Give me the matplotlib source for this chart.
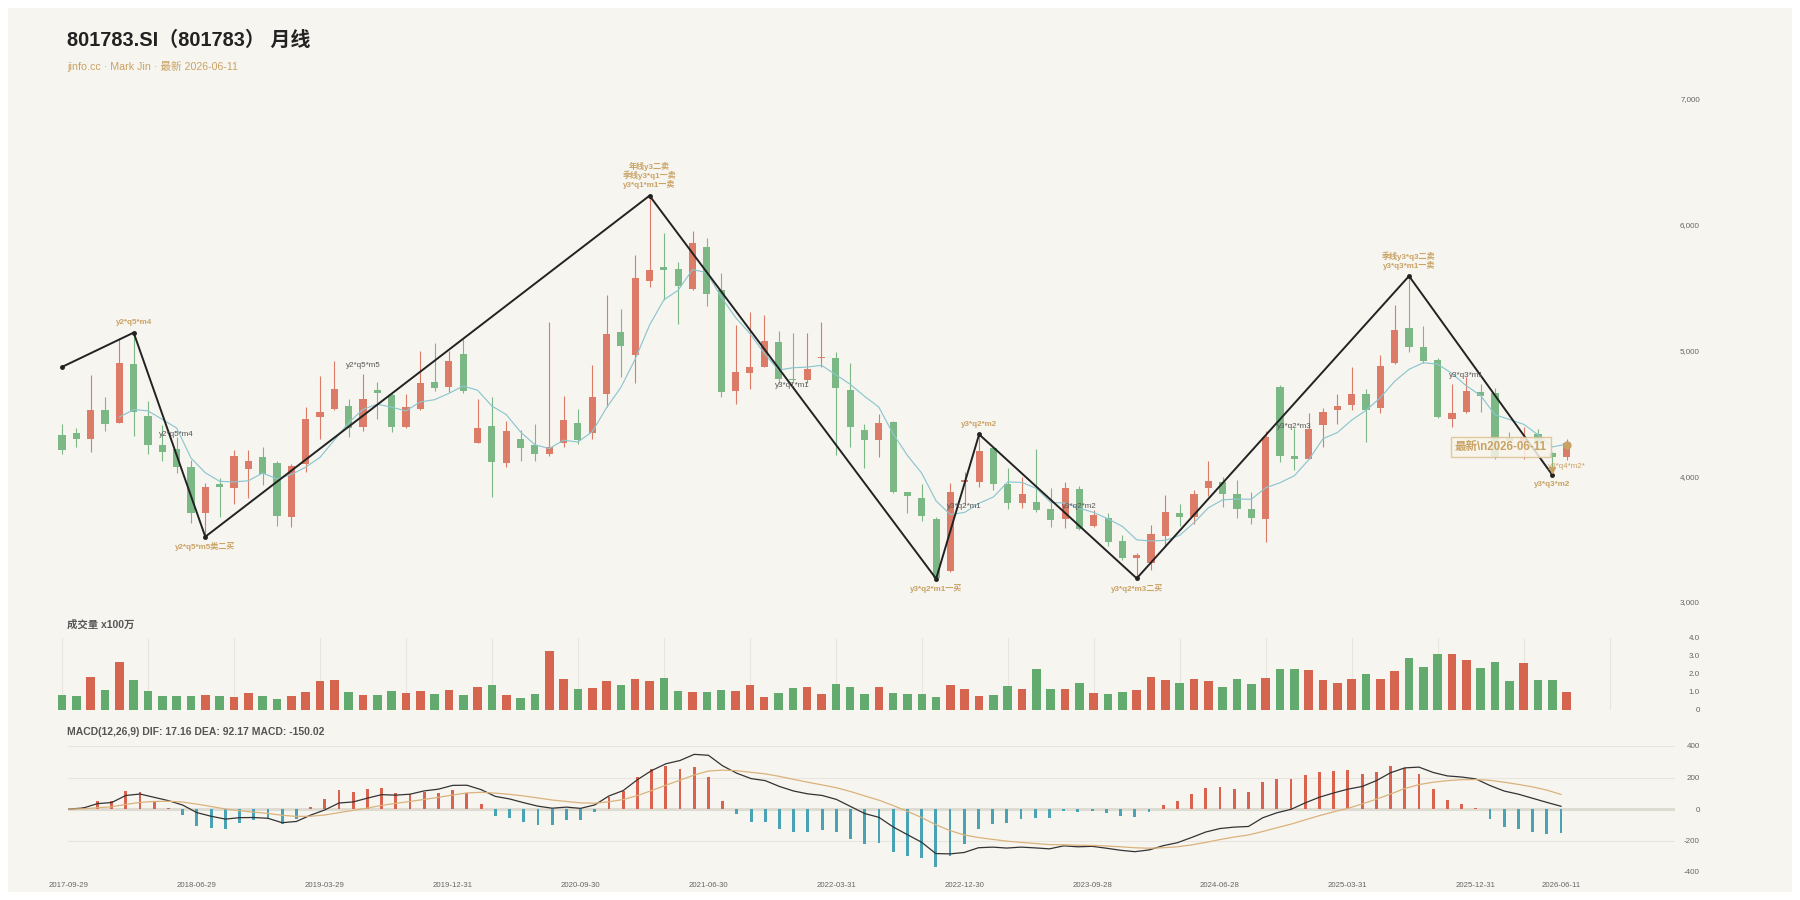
import matplotlib
matplotlib.use('Agg')
import matplotlib.pyplot as plt
import numpy as np
import pandas as pd
from matplotlib.patches import Rectangle

plt.rcParams['font.family'] = ['Liberation Sans', 'Noto Sans CJK SC', 'DejaVu Sans']

# ---- data (monthly, 2017-09 .. 2026-06) ----
tick_idx = [0, 9, 18, 27, 36, 45, 54, 63, 72, 81, 90, 99, 105]
tick_dates = ['2017-09-29', '2018-06-29', '2019-03-29', '2019-12-31', '2020-09-30',
              '2021-06-30', '2022-03-31', '2022-12-30', '2023-09-28', '2024-06-28',
              '2025-03-31', '2025-12-31', '2026-06-11']

opens = [4328, 4346, 4299, 4527, 4426, 4893, 4482, 4248, 4214, 4076,
         3705, 3941, 3904, 4058, 4153, 4108, 3678, 4097, 4474, 4537,
         4559, 4394, 4686, 4646, 4394, 4535, 4752, 4712, 4970, 4267,
         4400, 4108, 4294, 4249, 4177, 4261, 4421, 4346, 4654, 5144,
         4964, 5555, 5664, 5648, 5489, 5825, 5481, 4677, 4818, 4871,
         5065, 4776, 4765, 4937, 4943, 4686, 4368, 4288, 4434, 3872,
         3829, 3658, 3247, 3952, 3958, 4227, 3938, 3790, 3792, 3737,
         3661, 3899, 3607, 3670, 3485, 3352, 3307, 3525, 3706, 3679,
         3909, 3958, 3859, 3740, 3661, 4712, 4161, 4140, 4405, 4527,
         4569, 4654, 4545, 4898, 5176, 5030, 4925, 4458, 4514, 4670,
         4659, 4302, 4262, 4333, 4182, 4156]
highs = [4415, 4381, 4805, 4628, 5102, 5142, 4598, 4407, 4315, 4129,
         3949, 3983, 4209, 4209, 4230, 4119, 4097, 4548, 4797, 4916,
         4614, 4813, 4752, 4664, 4651, 4998, 5062, 4999, 5089, 4612,
         4628, 4439, 4368, 4415, 5224, 4638, 4532, 4885, 5441, 5332,
         5759, 6231, 5932, 5701, 5953, 5892, 5619, 5203, 5309, 5282,
         5155, 5142, 5142, 5224, 4986, 4898, 4415, 4492, 4442, 3872,
         3938, 3679, 3944, 4036, 4333, 4227, 4068, 3991, 4214, 3904,
         3952, 3925, 3732, 3706, 3533, 3390, 3612, 3851, 3777, 3891,
         4121, 3997, 3971, 3872, 4360, 4725, 4381, 4500, 4540, 4654,
         4866, 4691, 4964, 5362, 5592, 5197, 4938, 4731, 4791, 4734,
         4699, 4355, 4395, 4376, 4190, 4294]
lows = [4174, 4235, 4195, 4362, 4420, 4320, 4174, 4124, 4028, 3626,
        3519, 3673, 3779, 3824, 3930, 3604, 3599, 4036, 4294, 4527,
        4315, 4362, 4453, 4354, 4381, 4527, 4680, 4672, 4659, 4261,
        3838, 4076, 4124, 4124, 4161, 4235, 4254, 4294, 4553, 4792,
        4739, 5507, 5402, 5208, 5481, 5356, 4633, 4572, 4696, 4866,
        4739, 4739, 4739, 4871, 4169, 4235, 4063, 4155, 3869, 3710,
        3647, 3185, 3240, 3771, 3917, 3891, 3737, 3745, 3719, 3599,
        3586, 3573, 3599, 3448, 3334, 3188, 3254, 3440, 3605, 3620,
        3843, 3758, 3666, 3618, 3480, 4111, 4050, 4135, 4235, 4416,
        4527, 4275, 4500, 4890, 4985, 4903, 4461, 4395, 4506, 4514,
        4135, 4262, 4135, 4209, 4010, 4130]
closes = [4209, 4299, 4527, 4418, 4898, 4508, 4248, 4190, 4071, 3710,
          3917, 3912, 4163, 4119, 4015, 3686, 4084, 4455, 4510, 4696,
          4386, 4611, 4664, 4389, 4548, 4744, 4699, 4916, 4680, 4381,
          4116, 4360, 4222, 4174, 4230, 4447, 4288, 4630, 5129, 5036,
          5574, 5638, 5638, 5512, 5857, 5449, 4672, 4826, 4871, 5078,
          4773, 4765, 4853, 4942, 4704, 4394, 4288, 4421, 3877, 3845,
          3686, 3188, 3877, 3971, 4203, 3938, 3785, 3856, 3732, 3650,
          3909, 3581, 3689, 3474, 3352, 3374, 3538, 3713, 3674, 3859,
          3962, 3856, 3740, 3670, 4315, 4161, 4135, 4373, 4511, 4556,
          4657, 4524, 4877, 5163, 5030, 4919, 4469, 4503, 4675, 4641,
          4156, 4283, 4310, 4262, 4156, 4262]
volumes = [0.85, 0.78, 1.83, 1.09, 2.67, 1.65, 1.04, 0.78, 0.76, 0.76,
           0.81, 0.76, 0.72, 0.94, 0.78, 0.63, 0.78, 0.98, 1.59, 1.69,
           1.02, 0.85, 0.83, 1.04, 0.94, 1.06, 0.89, 1.09, 0.83, 1.28,
           1.41, 0.81, 0.67, 0.91, 3.26, 1.74, 1.17, 1.24, 1.59, 1.41,
           1.70, 1.59, 1.76, 1.07, 0.98, 0.98, 1.13, 1.07, 1.37, 0.72,
           0.93, 1.24, 1.30, 0.91, 1.46, 1.30, 0.89, 1.26, 0.93, 0.89,
           0.89, 0.72, 1.37, 1.19, 0.80, 0.85, 1.33, 1.19, 2.26, 1.19,
           1.19, 1.52, 0.96, 0.89, 1.02, 1.09, 1.85, 1.65, 1.52, 1.74,
           1.61, 1.30, 1.70, 1.44, 1.80, 2.30, 2.30, 2.22, 1.67, 1.50,
           1.72, 1.98, 1.70, 2.19, 2.89, 2.41, 3.11, 3.11, 2.78, 2.35,
           2.67, 1.63, 2.63, 1.69, 1.67, 1.00]

dif = [0, 6, 34, 41, 86, 95, 74, 53, 25, -23,
       -46, -64, -55, -54, -59, -87, -79, -39, -6, 38,
       45, 69, 91, 88, 94, 115, 126, 150, 151, 123,
       80, 64, 40, 18, 5, 12, 4, 26, 83, 117,
       186, 244, 287, 308, 347, 341, 274, 227, 193, 180,
       143, 114, 96, 86, 61, 16, -29, -53, -114, -163,
       -211, -283, -285, -276, -246, -242, -248, -242, -247, -253,
       -234, -240, -237, -249, -262, -271, -260, -233, -214, -181,
       -146, -124, -115, -111, -56, -24, -2, 39, 75, 102,
       126, 143, 180, 230, 261, 266, 232, 210, 203, 191,
       149, 114, 94, 68, 42, 17.16]
dea = [0, 1, 8, 14, 29, 42, 48, 49, 44, 31,
       16, 0, -11, -20, -28, -40, -47, -46, -38, -23,
       -9, 6, 23, 36, 48, 61, 74, 89, 102, 106,
       101, 93, 83, 70, 57, 48, 39, 37, 46, 60,
       85, 117, 151, 183, 216, 241, 247, 243, 233, 223,
       207, 188, 170, 153, 135, 111, 83, 56, 22, -15,
       -54, -100, -137, -165, -181, -193, -204, -212, -219, -226,
       -227, -230, -231, -235, -240, -246, -249, -246, -240, -228,
       -212, -194, -178, -165, -143, -119, -96, -69, -42, -18,
       4, 32, 62, 95, 130, 155, 170, 180, 186, 187,
       182, 170, 156, 140, 120, 92.17]
macd_hist = [0, 10, 51, 53, 114, 106, 51, 8, -38, -108,
             -123, -127, -87, -68, -63, -95, -63, 13, 63, 121,
             108, 125, 135, 104, 93, 108, 104, 121, 99, 34,
             -42, -59, -85, -104, -104, -72, -70, -21, 74, 114,
             201, 254, 273, 252, 264, 201, 53, -32, -80, -85,
             -127, -148, -148, -133, -148, -190, -224, -218, -271, -296,
             -313, -366, -296, -222, -129, -97, -87, -61, -57, -55,
             -13, -21, -11, -28, -44, -49, -21, 25, 51, 93,
             131, 140, 127, 108, 174, 190, 188, 216, 235, 241,
             245, 222, 237, 271, 262, 222, 125, 59, 34, 8,
             -66, -112, -125, -144, -157, -150.02]

# zigzag pivots
pivot_idx = [0, 5, 10, 41, 61, 64, 75, 94, 104]
pivot_val = [4869, 5142, 3519, 6231, 3185, 4333, 3188, 5592, 4010]
pivot_labels = [
    (5, 'y2*q5*m4', 'above'),
    (10, 'y2*q5*m5类二买', 'below'),
    (41, '年线y3二卖\n季线y3*q1一卖\ny3*q1*m1一卖', 'above'),
    (61, 'y3*q2*m1一买', 'below'),
    (64, 'y3*q2*m2', 'above'),
    (75, 'y3*q2*m3二买', 'below'),
    (94, '季线y3*q3二卖\ny3*q3*m1一卖', 'above'),
    (104, 'y3*q3*m2', 'below'),
]
# lower-level notes (index, price, text)
notes = [(8, 4328, 'y2*q5*m4'), (21, 4877, 'y2*q5*m5'), (51, 4718, 'y3*q1*m1'),
         (63, 3763, 'y3*q2*m1'), (71, 3763, 'y3*q2*m2'), (86, 4392, 'y3*q2*m3'),
         (98, 4805, 'y3*q3*m1')]

# ---- styles ----
RED = '#dc7b67'
GREEN = '#7bb886'
VRED = '#d6654f'
VGREEN = '#62aa6e'
TAN = '#c9a264'
BG = '#f7f5f0'

W, H = 1800, 900
fig = plt.figure(figsize=(18, 9), dpi=100, facecolor='white')
fig.patches.append(Rectangle((8 / W, 8 / H), 1 - 16 / W, 1 - 16 / H, transform=fig.transFigure,
                             facecolor=BG, edgecolor='none', zorder=-10))


def px_axes(x0, y0, x1, y1):
    a = fig.add_axes([x0 / W, 1 - y1 / H, (x1 - x0) / W, (y1 - y0) / H])
    a.set_facecolor('none')
    for s in a.spines.values():
        s.set_visible(False)
    return a


def right_labels(a, ticks, labels):
    a.yaxis.tick_right()
    a.set_yticks(ticks)
    a.set_yticklabels(labels)
    a.tick_params(axis='y', length=0, pad=18, labelsize=5.8, labelcolor='#666')
    for t in a.get_yticklabels():
        t.set_horizontalalignment('right')


o = np.array(opens, float)
h = np.array(highs, float)
l = np.array(lows, float)
c = np.array(closes, float)
n = len(c)
idx = np.arange(n)
up = c >= o
cols = np.where(up, RED, GREEN)

# ---- main price panel ----
ax = px_axes(55, 80, 1675, 602)
ax.set_xlim((55 - 62) / 14.33, (1675 - 62) / 14.33)
ax.set_ylim(3000, 3000 + 522 * 7.952)
ax.vlines(idx, l, h, colors=cols, lw=0.8, zorder=2)
ax.bar(idx, np.maximum(np.abs(c - o), 8), bottom=np.minimum(o, c), width=0.5,
       color=cols, zorder=3)
ma5 = pd.Series(c).rolling(5).mean()
ax.plot(idx, ma5, color='#8cc6cf', lw=0.85, zorder=4)
ax.plot(pivot_idx, pivot_val, color='#222222', lw=1.4, marker='o', ms=2.5, zorder=6)

for i, txt, pos in pivot_labels:
    v = pivot_val[pivot_idx.index(i)]
    if pos == 'above':
        ax.annotate(txt, (i, v), xytext=(0, 4.5), textcoords='offset points', ha='center',
                    va='bottom', fontsize=5.8, fontweight='bold', color=TAN,
                    linespacing=1.0, zorder=8)
    else:
        ax.annotate(txt, (i, v), xytext=(0, -4), textcoords='offset points', ha='center',
                    va='top', fontsize=5.8, fontweight='bold', color=TAN, zorder=8)

for i, v, txt in notes:
    ax.text(i, v, txt, ha='center', va='center', fontsize=5.8, color='#555555', zorder=7)

# latest marker
ax.annotate('最新\\n2026-06-11', (n - 1, c[-1]), xytext=(-47.5, -2.5), textcoords='offset points',
            ha='center', va='center', fontsize=8.3, fontweight='bold', color=TAN, zorder=9,
            bbox=dict(boxstyle='square,pad=0.35', fc='#f8f4eb', ec='#dcc08e', lw=1, alpha=0.85))
ax.plot([n - 1], [c[-1] - 10], marker='o', ms=5, color=TAN, zorder=9)
ax.plot([pivot_idx[-1]], [pivot_val[-1] + 40], marker='v', ms=4, color=TAN, zorder=9)
ax.annotate('y3*q4*m2*', (n - 1, l[-1]), xytext=(0, -2), textcoords='offset points',
            ha='center', va='top', fontsize=5.8, color=TAN, zorder=9)

ax.set_xticks([])
right_labels(ax, [3000, 4000, 5000, 6000, 7000], ['3,000', '4,000', '5,000', '6,000', '7,000'])

# ---- volume panel ----
axv = px_axes(55, 638, 1675, 710)
axv.set_xlim((55 - 62) / 14.33, (1675 - 62) / 14.33)
axv.set_ylim(0, 4)
axv.bar(idx, volumes, width=0.6, color=np.where(up, VRED, VGREEN), zorder=3)
axv.set_xticks(range(0, 109, 6))
axv.tick_params(axis='x', length=0, labelbottom=False)
axv.grid(axis='x', color='#e8e5de', lw=0.8)
axv.set_axisbelow(True)
right_labels(axv, [0, 1, 2, 3, 4], ['0', '1.0', '2.0', '3.0', '4.0'])

# ---- MACD panel ----
axm = px_axes(68, 746, 1675, 872)
axm.set_xlim((68 - 69) / 14.21, (1675 - 69) / 14.21)
axm.set_ylim(-400, 400)
hist = np.array(macd_hist, float)
axm.axhline(0, color='#dedbd3', lw=2.2, zorder=1)
axm.bar(idx, hist, width=0.2, color=np.where(hist >= 0, '#d9634e', '#4aa3b5'), zorder=3)
axm.plot(idx, dif, color='#333333', lw=0.9, zorder=4)
axm.plot(idx, dea, color='#dab27c', lw=0.9, zorder=4)
axm.grid(axis='y', color='#e8e5de', lw=0.8)
axm.set_axisbelow(True)
right_labels(axm, [-400, -200, 0, 200, 400], ['-400', '-200', '0', '200', '400'])
axm.set_xticks(tick_idx)
axm.set_xticklabels(tick_dates)
axm.tick_params(axis='x', length=0, pad=7.5, labelsize=5.6, labelcolor='#666')

# ---- titles ----
fig.text(67 / W, 1 - 40 / H, '801783.SI（801783） 月线', fontsize=14.4, fontweight='bold',
         color='#222222', va='center', ha='left')
fig.text(67 / W, 1 - 66 / H, 'jinfo.cc · Mark Jin · 最新 2026-06-11', fontsize=7.7,
         color=TAN, va='center', ha='left')
fig.text(67 / W, 1 - 625 / H, '成交量 x100万', fontsize=7.5, fontweight='bold',
         color='#555555', va='center', ha='left')
fig.text(67 / W, 1 - 732 / H, 'MACD(12,26,9) DIF: 17.16 DEA: 92.17 MACD: -150.02',
         fontsize=7.5, fontweight='bold', color='#555555', va='center', ha='left')

fig.savefig('out.png', dpi=100, facecolor='white')
